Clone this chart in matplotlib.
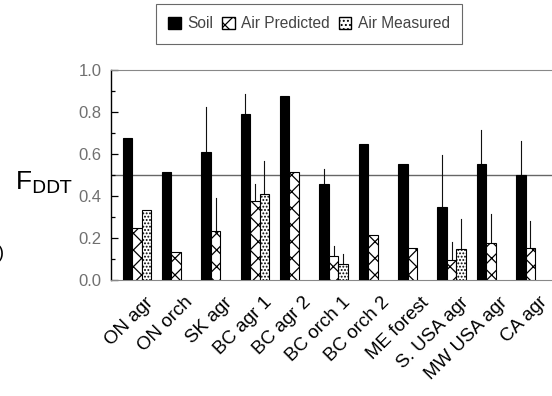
import numpy as np
import matplotlib
matplotlib.use("Agg")
import matplotlib.pyplot as plt
import matplotlib.transforms as mtrans
from matplotlib.patches import Patch

categories = ["ON agr", "ON orch", "SK agr", "BC agr 1", "BC agr 2", "BC orch 1",
              "BC orch 2", "ME forest", "S. USA agr", "MW USA agr", "CA agr"]
soil = [0.675, 0.514, 0.608, 0.789, 0.875, 0.456, 0.648, 0.554, 0.349, 0.554, 0.500]
soil_err = [0, 0, 0.214, 0.095, 0, 0.074, 0, 0, 0.246, 0.160, 0.162]
air_pred = [0.246, 0.135, 0.235, 0.376, 0.514, 0.114, 0.214, 0.154, 0.094, 0.175, 0.154]
pred_err = [0, 0, 0.154, 0.080, 0, 0.048, 0, 0, 0.087, 0.139, 0.127]
air_meas = [0.333, np.nan, np.nan, 0.410, np.nan, 0.075, np.nan, np.nan, 0.148, np.nan, np.nan]
meas_err = [0, 0, 0, 0.158, 0, 0.049, 0, 0, 0.141, 0, 0]
yticks = [0.0, 0.2, 0.4, 0.6, 0.8, 1.0]
ytick_labels = ["0.0", "0.2", "0.4", "0.6", "0.8", "1.0"]

plt.rcParams['font.family'] = ['Liberation Sans Narrow', 'Liberation Sans', 'DejaVu Sans']
plt.rcParams['hatch.linewidth'] = 0.9

fig = plt.figure(figsize=(5.52, 3.96), dpi=100)
ax = fig.add_axes([111/552, 1 - 280/396, 1 - 111/552, 210/396])

x = np.arange(len(categories))
w = 0.242
ecol = '#111111'

def draw(xpos, vals, errs, **kw):
    for xi, v, e in zip(xpos, vals, errs):
        if np.isnan(v):
            continue
        ax.bar(xi, v, width=w, edgecolor='black', linewidth=0.8, zorder=3, **kw)
        if e > 0:
            ax.plot([xi, xi], [v, v + e], color=ecol, lw=0.8, zorder=2)

draw(x - w, soil, soil_err, color='black')
draw(x, air_pred, pred_err, facecolor='white', hatch='xx')
draw(x + w, air_meas, meas_err, facecolor='white', hatch='.....')

ax.axhline(0.5, color='#666666', lw=1.0, zorder=1)

ax.set_xlim(-0.657, 10.55)
ax.set_ylim(0, 1.0)
ax.spines['right'].set_visible(False)
ax.spines['top'].set_color('#888888')
ax.spines['bottom'].set_color('#888888')
ax.spines['left'].set_color('black')
ax.spines['left'].set_linewidth(1.0)

ax.set_yticks(yticks)
ax.set_yticklabels(ytick_labels, fontsize=12, color='#707070')
ax.set_yticks([0.1, 0.3, 0.5, 0.7, 0.9], minor=True)
ax.tick_params(axis='y', which='major', direction='in', length=5, width=0.9, pad=7)
ax.tick_params(axis='y', which='minor', direction='in', length=3, width=0.9)

ax.set_xticks(x)
ax.set_xticklabels(categories, rotation=45, ha='right', rotation_mode='anchor',
                   fontsize=13.5)
ax.tick_params(axis='x', which='major', length=0, pad=10)
offset = mtrans.ScaledTranslation(8/100, 0, fig.dpi_scale_trans)
for lbl in ax.get_xticklabels():
    lbl.set_transform(lbl.get_transform() + offset)

fig.text(15/552, 1 - 183/396, r"F$_{\mathrm{DDT}}$", fontsize=19, va='center', ha='left')
fig.text(-2/552, 1 - 253/396, ")", fontsize=13, va='center', ha='left')

handles = [Patch(facecolor='black', edgecolor='black', label='Soil'),
           Patch(facecolor='white', edgecolor='black', hatch='xx', label='Air Predicted'),
           Patch(facecolor='white', edgecolor='black', hatch='....', label='Air Measured')]
leg = fig.legend(handles=handles, loc='center', bbox_to_anchor=(309/552, 1 - 24/396),
                 ncol=3, frameon=True, fancybox=False, edgecolor='#444444',
                 fontsize=11.2, handlelength=0.8, handleheight=0.8, handletextpad=0.4,
                 columnspacing=0.6, borderpad=0.8)
leg.get_frame().set_linewidth(0.8)
for t in leg.get_texts():
    t.set_color('#444444')

fig.savefig("out.png", dpi=100)
